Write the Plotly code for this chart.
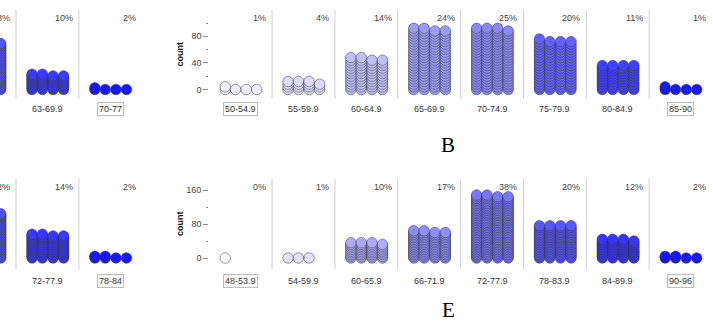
import plotly.graph_objects as go

FIG_W, FIG_H = 713, 321

# ---------------- data ----------------
# Panel B (top row, right)
b_bins = ["50-54.9", "55-59.9", "60-64.9", "65-69.9", "70-74.9", "75-79.9", "80-84.9", "85-90"]
b_counts = [5, 15, 50, 94, 95, 77, 40, 5]
b_pct = ["1%", "4%", "14%", "24%", "25%", "20%", "11%", "1%"]

# Panel E (bottom row, right)
e_bins = ["48-53.9", "54-59.9", "60-65.9", "66-71.9", "72-77.9", "78-83.9", "84-89.9", "90-96"]
e_counts = [1, 3, 39, 66, 150, 80, 47, 6]
e_pct = ["0%", "1%", "10%", "17%", "38%", "20%", "12%", "2%"]

# Panel A (top row, left, only partly visible)
a_bins = ["56-62.9", "63-69.9", "70-77"]
a_counts = [112, 38, 5]
a_pct = ["28%", "10%", "2%"]

# Panel D (bottom row, left, only partly visible)
d_bins = ["66-71.9", "72-77.9", "78-84"]
d_counts = [108, 58, 6]
d_pct = ["22%", "14%", "2%"]

b_ticks = [0, 40, 80]
e_ticks = [0, 80, 160]

# ---------------- styling ----------------
b_colors = ["#eeeeff", "#dcdcff", "#c0c0ff", "#9c9cfa", "#8888f6", "#6262ff", "#4040ff", "#1818ff"]
e_colors = ["#ffffff", "#e2e2ff", "#ababff", "#8e8eff", "#7777f8", "#5858ff", "#3636ff", "#1616ff"]
a_colors = ["#5454ff", "#3a3aff", "#1616ff"]
d_colors = ["#4e4eff", "#3838ff", "#1616ff"]

FONT = "Liberation Sans, Arial, sans-serif"
PW = 62.85                     # panel width in px
COL_OFFSETS = [0.255, 0.42, 0.59, 0.757]
PER_ROW = 4
ROW_STEP = 4                   # count units per stacked row of circles


def px_x(a, b):
    return [a / FIG_W, b / FIG_W]


def px_y(top, bottom):
    return [1 - bottom / FIG_H, 1 - top / FIG_H]


def stack_points(counts, colors):
    xs, ys, cs = [], [], []
    for b, (n, c) in enumerate(zip(counts, colors)):
        for i in range(n):
            xs.append(b + COL_OFFSETS[i % PER_ROW])
            ys.append((i // PER_ROW) * ROW_STEP)
            cs.append(c)
    return xs, ys, cs


panels = [
    # B
    dict(ax="", bins=b_bins, counts=b_counts, pct=b_pct, colors=b_colors,
         xdom=(209.2, 209.2 + 8 * PW), xrange=(0, 8), top=10, bottom=99,
         zero=89.5, scale=0.665, label_y=108.5, pct_y=18, boxed=[0, 7],
         ticks=b_ticks, minor=20, show_y=True),
    # E
    dict(ax="2", bins=e_bins, counts=e_counts, pct=e_pct, colors=e_colors,
         xdom=(209.2, 209.2 + 8 * PW), xrange=(0, 8), top=179, bottom=269,
         zero=258, scale=0.425, label_y=280.5, pct_y=186.5, boxed=[0, 7],
         ticks=e_ticks, minor=40, show_y=True),
    # A
    dict(ax="3", bins=a_bins, counts=a_counts, pct=a_pct, colors=a_colors,
         xdom=(0, 142), xrange=(1 - 16 / PW, 1 + 126 / PW), top=10, bottom=99,
         zero=89.5, scale=0.425, label_y=108.5, pct_y=18, boxed=[2],
         ticks=None, minor=None, show_y=False),
    # D
    dict(ax="4", bins=d_bins, counts=d_counts, pct=d_pct, colors=d_colors,
         xdom=(0, 142), xrange=(1 - 16 / PW, 1 + 126 / PW), top=179, bottom=269,
         zero=258, scale=0.425, label_y=280.5, pct_y=186.5, boxed=[2],
         ticks=None, minor=None, show_y=False),
]

fig = go.Figure()
layout = dict(
    width=FIG_W, height=FIG_H,
    margin=dict(l=0, r=0, t=0, b=0),
    paper_bgcolor="white", plot_bgcolor="white",
    showlegend=False,
    font=dict(family=FONT, size=9, color="#444"),
)
annotations = []
shapes = []

for p in panels:
    ax = p["ax"]
    xname, yname = "xaxis" + ax, "yaxis" + ax
    xref, yref = "x" + ax, "y" + ax
    ydom = px_y(p["top"], p["bottom"])
    yr = [-(p["bottom"] - p["zero"]) / p["scale"], (p["zero"] - p["top"]) / p["scale"]]

    layout[xname] = dict(domain=px_x(*p["xdom"]), range=list(p["xrange"]),
                         visible=False, anchor=yref, fixedrange=True)
    if p["show_y"]:
        layout[yname] = dict(
            domain=ydom, range=yr, anchor=xref,
            showgrid=False, zeroline=False, showline=False,
            tickmode="array", tickvals=p["ticks"],
            ticks="outside", ticklen=5, tickwidth=1, tickcolor="#8a8a8a",
            tickfont=dict(size=9, color="#444", family=FONT),
            minor=dict(dtick=p["minor"], tick0=0, ticks="outside", ticklen=2,
                       tickwidth=1, tickcolor="#8a8a8a", showgrid=False),
            fixedrange=True,
        )
        annotations.append(dict(
            text="<b>count</b>", xref="paper", yref="paper",
            x=180 / FIG_W, y=(ydom[0] + ydom[1]) / 2, textangle=-90,
            showarrow=False, xanchor="center", yanchor="middle",
            font=dict(size=9, color="#111", family=FONT)))
    else:
        layout[yname] = dict(domain=ydom, range=yr, anchor=xref, visible=False,
                             fixedrange=True)

    xs, ys, cs = stack_points(p["counts"], p["colors"])
    fig.add_trace(go.Scatter(
        x=xs, y=ys, mode="markers", xaxis=xref, yaxis=yref,
        marker=dict(size=10.5, color=cs, line=dict(color="#303030", width=0.5)),
        cliponaxis=True, hoverinfo="skip"))

    n = len(p["bins"])
    for k in range(1, n):
        shapes.append(dict(type="line", xref=xref, yref="paper", x0=k, x1=k,
                           y0=ydom[0], y1=ydom[1],
                           line=dict(color="#cfcfcf", width=1)))
    for i, (lab, pc) in enumerate(zip(p["bins"], p["pct"])):
        annotations.append(dict(
            text=pc, xref=xref, yref="paper", x=i + 1, y=1 - p["pct_y"] / FIG_H,
            xanchor="right", yanchor="middle", xshift=-4, showarrow=False,
            font=dict(size=9, color="#444", family=FONT)))
        boxed = i in p["boxed"]
        annotations.append(dict(
            text=lab, xref=xref, yref="paper", x=i + 0.5, y=1 - p["label_y"] / FIG_H,
            xanchor="center", yanchor="middle", showarrow=False,
            bordercolor="#bdbdbd" if boxed else "rgba(0,0,0,0)",
            borderwidth=1 if boxed else 0, borderpad=1,
            font=dict(size=9, color="#333", family=FONT)))

annotations.append(dict(text="B", xref="paper", yref="paper", x=448 / FIG_W,
                        y=1 - 145 / FIG_H, showarrow=False, xanchor="center",
                        yanchor="middle",
                        font=dict(size=21, color="#000",
                                  family="Liberation Serif, Times New Roman, serif")))
annotations.append(dict(text="E", xref="paper", yref="paper", x=448 / FIG_W,
                        y=1 - 310 / FIG_H, showarrow=False, xanchor="center",
                        yanchor="middle",
                        font=dict(size=21, color="#000",
                                  family="Liberation Serif, Times New Roman, serif")))

layout["annotations"] = annotations
layout["shapes"] = shapes
fig.update_layout(**layout)
fig.write_html("out.html", config={"displayModeBar": False, "staticPlot": True},
               post_script="document.body.style.margin='0';document.body.style.overflow='hidden';")
